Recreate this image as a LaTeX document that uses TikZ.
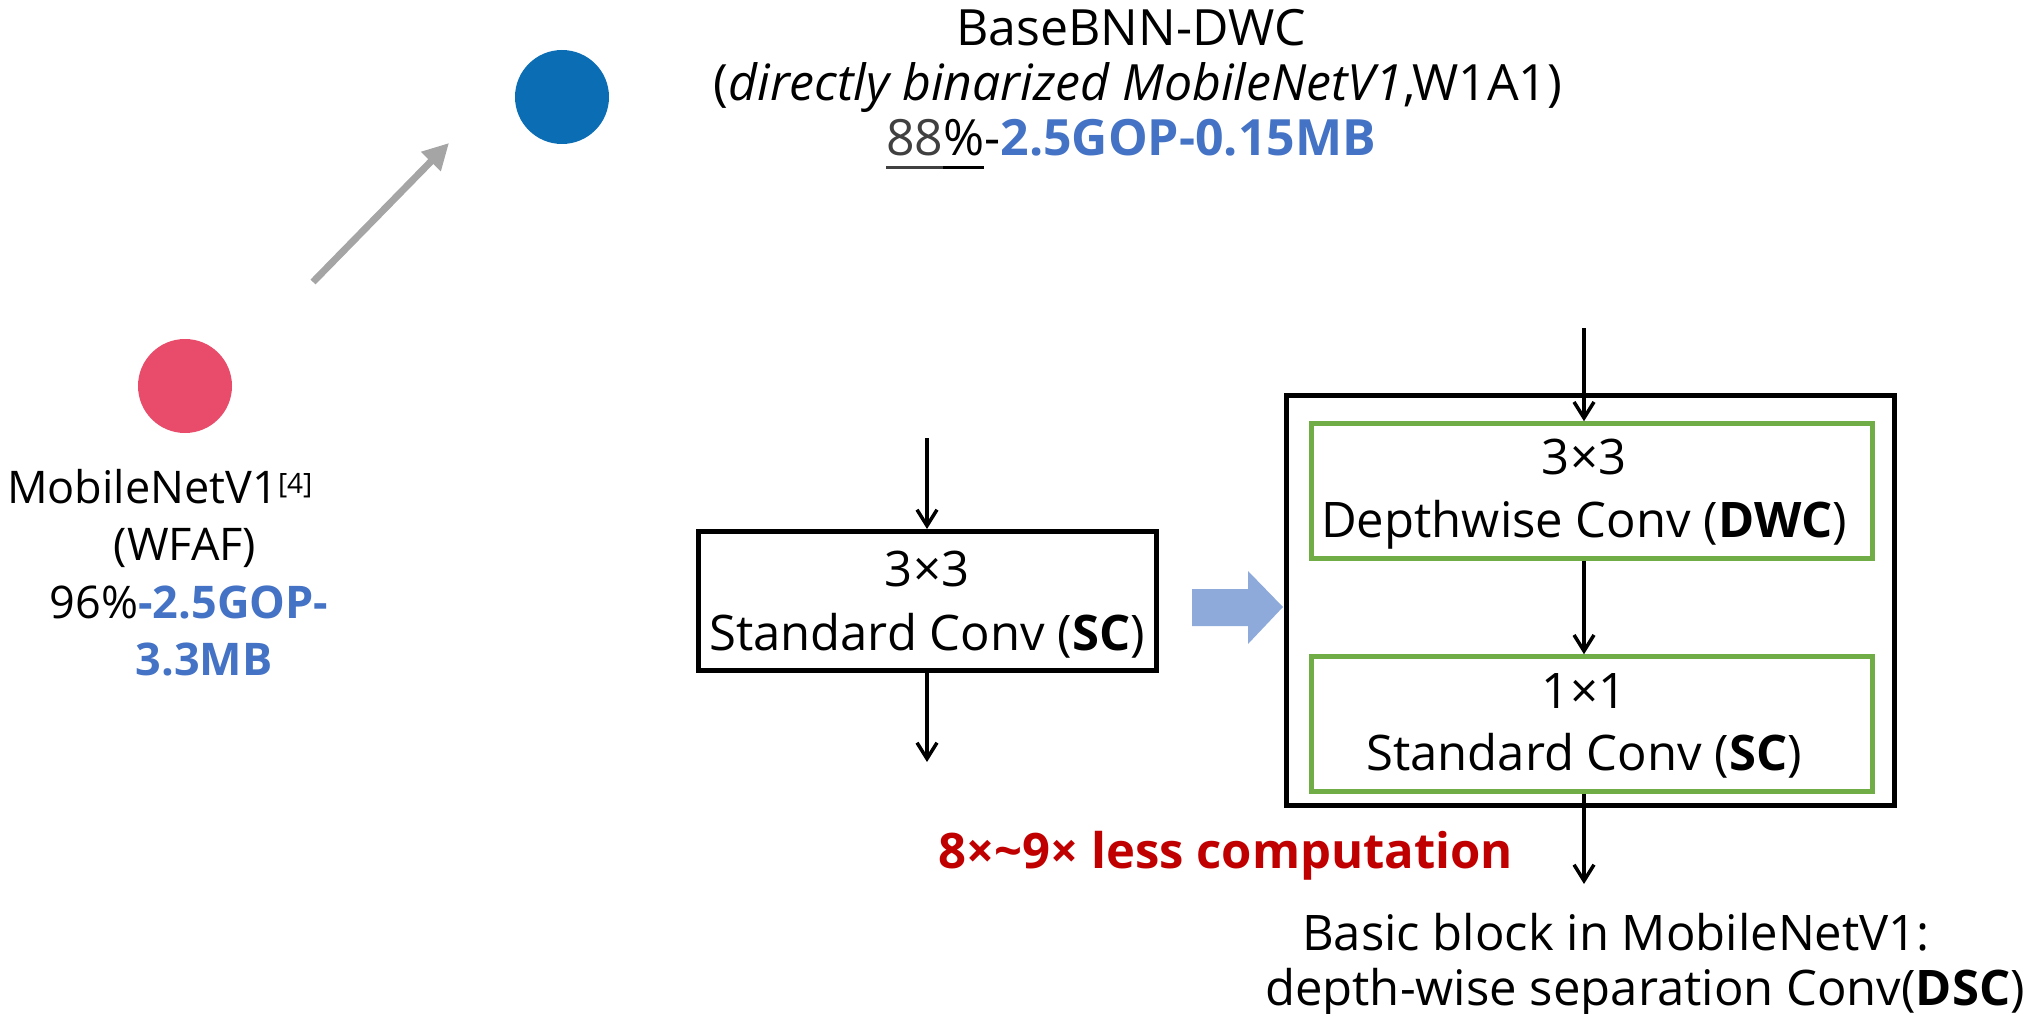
\documentclass[tikz,border=0pt]{standalone}
\usepackage{fontspec}
\setmainfont{Open Sans}
\usetikzlibrary{arrows.meta}
\definecolor{accblue}{HTML}{4472C4}
\definecolor{dotblue}{HTML}{0B6EB5}
\definecolor{dotred}{HTML}{E84C6A}
\definecolor{convgreen}{HTML}{70AD47}
\definecolor{flowblue}{HTML}{8EAADB}
\definecolor{warnred}{HTML}{C00000}
\definecolor{darkgray4}{HTML}{404040}
\definecolor{arrowgray}{HTML}{A5A5A5}
\tikzset{
  toplbl/.style={inner sep=0pt, anchor=base, font=\fontsize{50}{58}\selectfont},
  leftlbl/.style={inner sep=0pt, anchor=base, font=\fontsize{45}{52}\selectfont},
  boxtxt/.style={inner sep=0pt, anchor=base, font=\fontsize{49}{56}\selectfont},
  captxt/.style={inner sep=0pt, anchor=base, font=\fontsize{49}{56}\selectfont},
  scbox/.style={draw=black, line width=5pt},
  greenbox/.style={draw=convgreen, line width=4.5pt},
  flow/.style={line width=3.5pt, -{Straight Barb[length=16pt, width=20pt, line width=3.5pt]}},
}
\newcommand{\bb}[1]{\textbf{#1}}
% text with a thick rule set a little below its baseline
\newcommand{\thickul}[2][black]{\setbox0=\hbox{#2}\rlap{\color{#1}\rule[-13pt]{\wd0}{3pt}}\box0}
\begin{document}
\begin{tikzpicture}[x=1pt, y=-1pt]
\useasboundingbox (0,0) rectangle (2039,1014);

% dots
\fill[dotblue] (562,97) ellipse (47 and 47);
\fill[dotred] (185,386) ellipse (47 and 47);
\coordinate (gfrom) at (313,282);
\coordinate (gto) at (449,143);
\draw[draw=arrowgray, line width=7pt, -{Triangle[length=26pt, width=26pt]}] (gfrom) -- (gto);

% BaseBNN-DWC label
\node[toplbl] (t1) at (1131,46) {BaseBNN-DWC};
\node[toplbl] (t2) at (1138,101) {(\textit{directly binarized MobileNetV1},W1A1)};
\node[toplbl] (t3) at (1131,156) {\thickul[darkgray4]{\textcolor{darkgray4}{88}}\thickul{\%}-\textcolor{accblue}{\bb{2.5GOP-0.15MB}}};

% MobileNetV1 label
\node[leftlbl] (m1) at (160,503) {MobileNetV1\textsuperscript{\fontsize{28}{28}\selectfont[4]}};
\node[leftlbl] (m2) at (185,560) {(WFAF)};
\node[leftlbl] (m3) at (189,618) {96\%\textcolor{accblue}{\bb{-2.5GOP-}}};
\node[leftlbl] (m4) at (204,675) {\textcolor{accblue}{\bb{3.3MB}}};

% standard convolution
\node[scbox, minimum width=458pt, minimum height=139pt, inner sep=0pt] (sc) at (927,601) {};
\node[boxtxt] (sct1) at (927,586) {3×3};
\node[boxtxt] (sct2) at (927,650) {Standard Conv (\bb{SC})};
\coordinate (scin) at (927,438);
\coordinate (scout) at (927,762);
\draw[flow] (scin) -- (sc.north);
\draw[flow] (sc.south) -- (scout);

% fat arrow
\fill[flowblue] (1192,589) -- (1248,589) -- (1248,571) -- (1283,607) -- (1248,644) -- (1248,626) -- (1192,626) -- cycle;

% depthwise separable block
\node[scbox, minimum width=608pt, minimum height=410pt, inner sep=0pt] (dsc) at (1590,600) {};
\node[greenbox, minimum width=561pt, minimum height=135pt, inner sep=0pt] (dwc) at (1592,491) {};
\node[greenbox, minimum width=561pt, minimum height=135pt, inner sep=0pt] (pwc) at (1592,724) {};
\node[boxtxt] (dwt1) at (1584,474) {3×3};
\node[boxtxt] (dwt2) at (1584,537) {Depthwise Conv (\bb{DWC})};
\node[boxtxt] (pwt1) at (1584,708) {1×1};
\node[boxtxt] (pwt2) at (1584,770) {Standard Conv (\bb{SC})};
\coordinate (dscin) at (1584,328);
\coordinate (dscout) at (1584,884);
\draw[flow] (dscin) -- (dwc.north -| dscin);
\draw[flow] (dwc.south -| dscin) -- (pwc.north -| dscin);
\draw[flow] (pwc.south -| dscin) -- (dscout);

\node[captxt, text=warnred] (save) at (1226,868) {\bb{8×\textasciitilde9× less computation}};
\node[captxt] (cap1) at (1616,950) {Basic block in MobileNetV1:};
\node[captxt] (cap2) at (1645,1005) {depth-wise separation Conv(\bb{DSC})};
\end{tikzpicture}
\end{document}
